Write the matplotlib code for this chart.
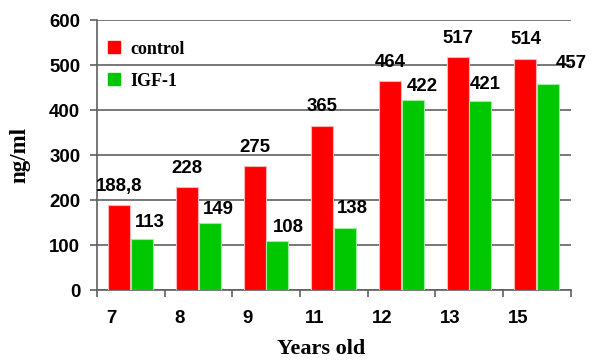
import numpy as np
import matplotlib.pyplot as plt
from matplotlib.lines import Line2D

# dados
idades = ["7", "8", "9", "11", "12", "13", "15"]
controle = [188.8, 228, 275, 365, 464, 517, 514]
igf1 = [113, 149, 108, 138, 422, 421, 457]

# deslocamento dos rotulos das barras verdes (pixels)
desl_x = [8, 9, 11, 7, 10, 5, 23]
desl_y = [17, 13, 14, 19, 14, 16, 21]

vermelho = "#ff0000"
verde = "#00c800"
cinza = "#606060"

fig = plt.figure(figsize=(5.99, 3.6), dpi=100)
ax = fig.add_axes([0.162, 0.1944, 0.791, 0.75])

x = np.arange(len(idades))
larg = 0.325
ax.bar(x - 0.17, controle, larg, color=vermelho, edgecolor="#ffb4b4", linewidth=0.8, zorder=3)
ax.bar(x + 0.165, igf1, larg, color=verde, edgecolor="#9cf09c", linewidth=0.8, zorder=3)


def fmt(v):
    s = f"{v:g}"
    return s.replace(".", ",")


for i in range(len(idades)):
    ax.annotate(fmt(controle[i]), (x[i] - 0.17, controle[i]), xytext=(0, 19),
                textcoords="offset pixels", ha="center", va="center",
                fontsize=13.4, fontweight="bold", family="Liberation Sans", zorder=4)
    ax.annotate(fmt(igf1[i]), (x[i] + 0.165, igf1[i]), xytext=(desl_x[i], desl_y[i]),
                textcoords="offset pixels", ha="center", va="center",
                fontsize=13.4, fontweight="bold", family="Liberation Sans", zorder=4)

ax.set_xlim(-0.5, len(idades) - 0.5)
ax.set_ylim(0, 600)
ax.set_yticks(range(0, 601, 100))
ax.yaxis.grid(True, color=cinza, linewidth=1.2)
ax.set_axisbelow(True)

ax.set_xticks(x - 0.28)
ax.set_xticklabels(idades)
ax.set_xticks(np.arange(len(idades) + 1) - 0.5, minor=True)
ax.tick_params(axis="x", which="major", length=0, pad=14.5)
ax.tick_params(axis="x", which="minor", length=5, width=1.2, color=cinza)
ax.tick_params(axis="y", length=5, width=1.2, color=cinza, pad=7)
for lab in ax.get_xticklabels() + ax.get_yticklabels():
    lab.set_family("Liberation Sans")
    lab.set_fontweight("bold")
    lab.set_fontsize(13.4)

for s in ["top", "right"]:
    ax.spines[s].set_visible(False)
for s in ["left", "bottom"]:
    ax.spines[s].set_color(cinza)
    ax.spines[s].set_linewidth(1.2)

ax.set_ylabel("ng/ml", family="Liberation Serif", fontweight="bold", fontsize=16.5)
ax.yaxis.set_label_coords(-0.14, 0.5)
ax.set_xlabel("Years old", family="Liberation Serif", fontweight="bold", fontsize=16)
ax.xaxis.set_label_coords(0.473, -0.183)

alcas = [Line2D([], [], marker="s", ls="", color=vermelho, markersize=8),
         Line2D([], [], marker="s", ls="", color=verde, markersize=8)]
ax.legend(alcas, ["control", "IGF-1"], loc="upper left", bbox_to_anchor=(0.016, 0.923),
          frameon=False, borderpad=0, borderaxespad=0, handlelength=1.0,
          handletextpad=0.4, labelspacing=0.82,
          prop={"family": "Liberation Serif", "weight": "bold", "size": 13})

fig.savefig("out.png", dpi=100)
